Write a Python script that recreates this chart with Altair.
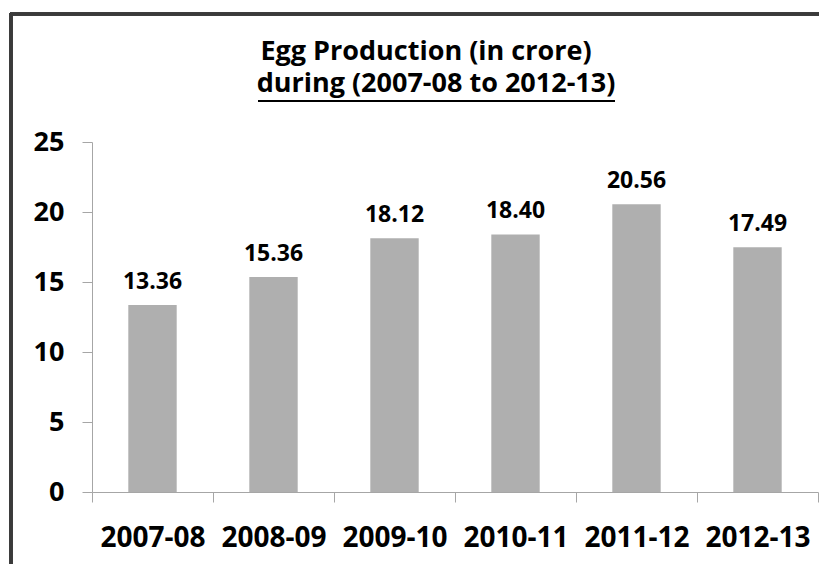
import altair as alt
import pandas as pd

years = ["2007-08", "2008-09", "2009-10", "2010-11", "2011-12", "2012-13"]
production = [13.36, 15.36, 18.12, 18.40, 20.56, 17.49]
y_ticks = [0, 5, 10, 15, 20, 25]
title_line1 = "Egg Production (in crore)"
title_line2 = "during (2007-08 to 2012-13)"

df = pd.DataFrame({"year": years, "value": production})

FONT = "Open Sans"
W, H = 726, 350

x_enc = alt.X(
    "year:N",
    sort=years,
    title=None,
    scale=alt.Scale(paddingInner=0, paddingOuter=0),
    axis=alt.Axis(
        labelAngle=0,
        labelFont=FONT,
        labelFontSize=28,
        labelFontWeight="bold",
        labelColor="black",
        labelPadding=22,
        tickBand="extent",
        tickSize=10,
        tickColor="#a6a6a6",
        domainColor="#a6a6a6",
        grid=False,
    ),
)
y_enc = alt.Y(
    "value:Q",
    title=None,
    scale=alt.Scale(domain=[0, 25], nice=False),
    axis=alt.Axis(
        values=y_ticks,
        labelFont=FONT,
        labelFontSize=27,
        labelFontWeight="bold",
        labelColor="black",
        labelPadding=18,
        tickSize=10,
        tickColor="#a6a6a6",
        domainColor="#a6a6a6",
        grid=False,
    ),
)

base = alt.Chart(df)
bars = base.mark_bar(color="#afafaf", width=alt.RelativeBandSize(0.4)).encode(x=x_enc, y=y_enc)
labels = base.mark_text(
    font=FONT, fontSize=23, fontWeight="bold", color="black",
    baseline="alphabetic", dy=-16,
).encode(x=alt.X("year:N", sort=years), y="value:Q", text=alt.Text("value:Q", format=".2f"))

title1 = alt.Chart(pd.DataFrame({"t": [title_line1]})).mark_text(
    font=FONT, fontSize=27, fontWeight="bold", color="black",
    align="center", baseline="alphabetic",
).encode(text="t:N", x=alt.value(334), y=alt.value(-82))
title2 = alt.Chart(pd.DataFrame({"t": [title_line2]})).mark_text(
    font=FONT, fontSize=27, fontWeight="bold", color="black",
    align="center", baseline="alphabetic",
).encode(text="t:N", x=alt.value(344), y=alt.value(-50))

border_top = base.mark_rule(color="#3a3a3a", strokeWidth=3).encode(
    x=alt.value(-82), x2=alt.value(W + 2), y=alt.value(-128)
)
border_left = base.mark_rule(color="#3a3a3a", strokeWidth=3).encode(
    x=alt.value(-81), y=alt.value(-129), y2=alt.value(H + 80)
)
underline = base.mark_rule(color="black", strokeWidth=2).encode(
    x=alt.value(166), x2=alt.value(523), y=alt.value(-41)
)

chart = alt.layer(bars, labels, title1, title2, border_top, border_left, underline).properties(
    width=W,
    height=H,
    padding={"left": 84, "top": 134, "right": 1, "bottom": 72},
    autosize=alt.AutoSizeParams(type="none"),
    background="white",
).configure_view(stroke=None)

chart.save("out.html", embed_options={"renderer": "svg", "actions": False})
